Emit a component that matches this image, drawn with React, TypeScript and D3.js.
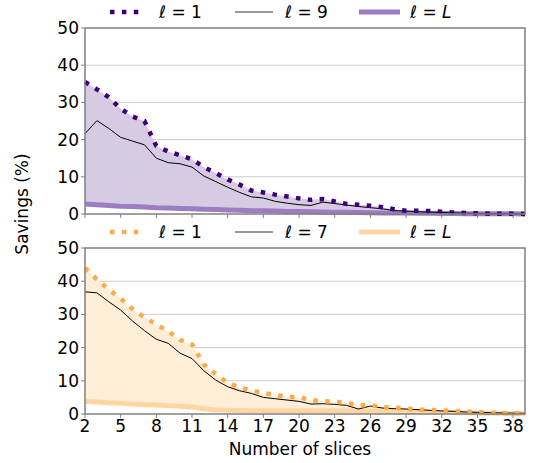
import * as d3 from 'd3';

const slices = d3.range(2, 40);
const xTicks = [2, 5, 8, 11, 14, 17, 20, 23, 26, 29, 32, 35, 38];
const yTicks = [0, 10, 20, 30, 40, 50];

// top panel (purple)
const topFirst = [35.5, 33.5, 31.4, 28.3, 26.2, 25.0, 18.3, 16.8, 15.8, 14.7, 12.6, 11.0, 9.3, 7.9, 6.3, 5.8, 5.2, 4.7, 4.2, 3.8, 4.0, 3.4, 2.7, 2.5, 2.2, 1.8, 1.3, 0.9, 0.9, 0.8, 0.6, 0.4, 0.3, 0.2, 0.1, 0.05, 0.05, 0.03];
const topMid = [21.6, 25.1, 23.0, 20.6, 19.6, 18.6, 15.0, 13.8, 13.5, 12.6, 10.2, 8.7, 7.2, 5.8, 4.6, 4.3, 3.4, 2.9, 2.5, 2.3, 3.2, 2.8, 2.4, 2.0, 1.7, 1.4, 0.9, 0.8, 0.6, 0.5, 0.4, 0.3, 0.2, 0.15, 0.1, 0.05, 0.05, 0.03];
const topLast = [2.7, 2.5, 2.3, 2.1, 2.0, 1.9, 1.7, 1.6, 1.5, 1.4, 1.3, 1.2, 1.1, 1.0, 0.9, 0.85, 0.8, 0.7, 0.65, 0.6, 0.55, 0.5, 0.45, 0.4, 0.35, 0.3, 0.27, 0.24, 0.2, 0.18, 0.15, 0.12, 0.1, 0.08, 0.06, 0.05, 0.04, 0.03];

// bottom panel (orange)
const botFirst = [44.0, 40.6, 37.5, 34.8, 31.6, 29.1, 27.0, 24.9, 22.3, 21.0, 14.9, 12.0, 9.4, 8.0, 7.1, 6.3, 5.7, 5.2, 5.0, 4.2, 3.9, 3.7, 3.4, 2.6, 2.7, 2.1, 1.9, 1.6, 1.3, 1.2, 1.1, 0.9, 0.7, 0.6, 0.4, 0.3, 0.2, 0.2];
const botMid = [36.8, 36.5, 33.8, 31.3, 28.0, 25.1, 22.5, 21.3, 18.3, 16.7, 13.0, 10.2, 8.2, 7.0, 6.2, 5.0, 4.6, 4.2, 3.8, 3.0, 3.1, 2.9, 2.6, 1.5, 2.4, 1.8, 1.6, 1.5, 1.3, 1.1, 0.9, 0.8, 0.6, 0.5, 0.4, 0.3, 0.25, 0.2];
const botLast = [3.8, 3.6, 3.4, 3.2, 3.0, 2.8, 2.7, 2.5, 2.3, 2.1, 1.6, 1.2, 1.1, 1.05, 1.0, 1.0, 1.0, 1.0, 1.0, 1.0, 1.0, 1.0, 1.0, 0.9, 0.85, 0.8, 0.75, 0.7, 0.65, 0.6, 0.5, 0.45, 0.4, 0.3, 0.25, 0.2, 0.15, 0.1];

const FONT = 'DejaVu Sans, sans-serif';
const FS = 17;
const left = 85;
const right = 525;

const x = d3.scaleLinear().domain([2, 39]).range([left, right]);

type PanelProps = {
  top: number;
  bottom: number;
  first: number[];
  mid: number[];
  last: number[];
  midLabel: string;
  dark: string;
  fill: string;
  thick: string;
  legendY: number;
  showXLabels: boolean;
};

const Label = ({ x0, y0, val, italicVal }: { x0: number; y0: number; val: string; italicVal: boolean }) => (
  <text x={x0} y={y0} fontSize={FS} fontFamily={FONT} dominantBaseline="central">
    <tspan fontStyle="italic">ℓ</tspan>
    <tspan> = </tspan>
    <tspan fontStyle={italicVal ? 'italic' : 'normal'}>{val}</tspan>
  </text>
);

const Panel = (p: PanelProps) => {
  const y = d3.scaleLinear().domain([0, 50]).range([p.bottom, p.top]);
  const line = (vals: number[]) =>
    d3.line<number>().x((_, i) => x(slices[i])).y((d) => y(d))(vals) || '';
  const area =
    d3
      .area<number>()
      .x((_, i) => x(slices[i]))
      .y0((_, i) => y(p.last[i]))
      .y1((d) => y(d))(p.first) || '';
  const ly = p.legendY;
  return (
    <g>
      {yTicks.slice(1, -1).map((t) => (
        <line key={t} x1={left} x2={right} y1={y(t)} y2={y(t)} stroke="#cccccc" strokeWidth={1} />
      ))}
      <path d={area} fill={p.fill} />
      <path d={line(p.last)} fill="none" stroke={p.thick} strokeWidth={5} />
      <path d={line(p.mid)} fill="none" stroke="#000" strokeWidth={1} />
      <path d={line(p.first)} fill="none" stroke={p.dark} strokeWidth={4.5} strokeDasharray="4.5 7.4" />
      <rect x={left} y={p.top} width={right - left} height={p.bottom - p.top} fill="none" stroke="#808080" strokeWidth={1.5} />
      {yTicks.map((t) => (
        <g key={t}>
          <line x1={left - 4} x2={left} y1={y(t)} y2={y(t)} stroke="#808080" strokeWidth={1} />
          <text x={left - 6} y={y(t)} textAnchor="end" dominantBaseline="central" fontSize={FS} fontFamily={FONT}>
            {t}
          </text>
        </g>
      ))}
      {xTicks.map((t) => (
        <g key={t}>
          <line x1={x(t)} x2={x(t)} y1={p.bottom} y2={p.bottom + 4} stroke="#808080" strokeWidth={1} />
          {p.showXLabels && (
            <text x={x(t)} y={p.bottom + 5} textAnchor="middle" dominantBaseline="hanging" fontSize={FS} fontFamily={FONT}>
              {t}
            </text>
          )}
        </g>
      ))}
      {/* legend */}
      <line x1={110} x2={145} y1={ly} y2={ly} stroke={p.dark} strokeWidth={4.5} strokeDasharray="4.5 7.4" />
      <Label x0={159} y0={ly} val="1" italicVal={false} />
      <line x1={235} x2={273} y1={ly} y2={ly} stroke="#000" strokeWidth={0.8} />
      <Label x0={285} y0={ly} val={p.midLabel} italicVal={false} />
      <line x1={359} x2={400} y1={ly} y2={ly} stroke={p.thick} strokeWidth={5} />
      <Label x0={410} y0={ly} val="L" italicVal={true} />
    </g>
  );
};

export default function App() {
  return (
    <svg width={536} height={463} style={{ position: 'absolute', left: 0, top: 0 }}>
      <rect width={536} height={463} fill="#fff" />
      <Panel
        top={28}
        bottom={214}
        first={topFirst}
        mid={topMid}
        last={topLast}
        midLabel="9"
        dark="#3f007d"
        fill="#d6cbe3"
        thick="#9a7dc3"
        legendY={12}
        showXLabels={false}
      />
      <Panel
        top={248}
        bottom={414}
        first={botFirst}
        mid={botMid}
        last={botLast}
        midLabel="7"
        dark="#fdab4a"
        fill="#feeed8"
        thick="#fed6a2"
        legendY={232}
        showXLabels={true}
      />
      <text
        transform="translate(22,204) rotate(-90)"
        textAnchor="middle"
        dominantBaseline="central"
        fontSize={FS}
        fontFamily={FONT}
      >
        Savings (%)
      </text>
      <text x={300} y={449} textAnchor="middle" dominantBaseline="central" fontSize={FS} fontFamily={FONT}>
        Number of slices
      </text>
    </svg>
  );
}
